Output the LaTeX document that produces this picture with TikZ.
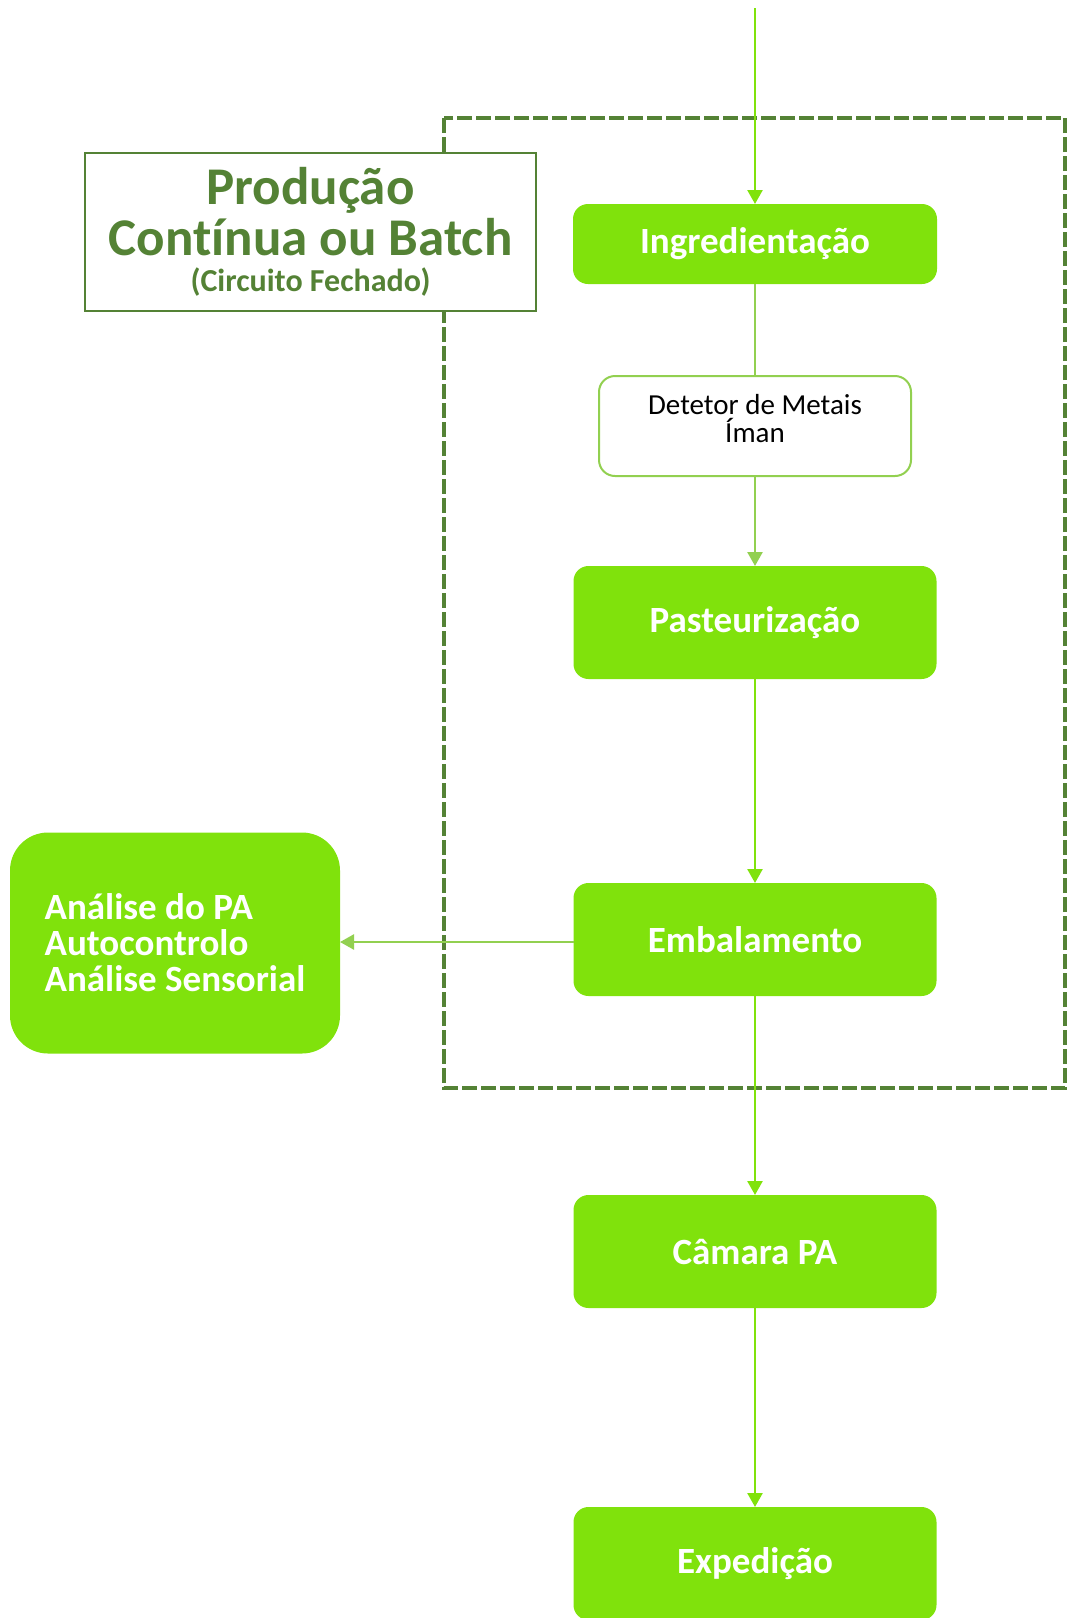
\documentclass[tikz,border=0pt]{standalone}
\usepackage{fontspec}
\setmainfont[Ligatures=NoCommon]{Carlito}
\usepackage{tikz}
\usetikzlibrary{arrows.meta}
\usetikzlibrary{shapes, positioning, calc}

\definecolor{leaf}{HTML}{80E20C}
\definecolor{moss}{HTML}{548235}
\definecolor{pale}{HTML}{92D050}

\begin{document}
\begin{tikzpicture}[x=1pt,y=-1pt,>={Triangle[width=15pt,length=14pt]},
  line width=2.5pt, node distance=199pt, every node/.style={outer sep=0pt},
  stage/.style={rectangle, rounded corners=15pt, fill=leaf, text=white, inner sep=0pt,
    minimum width=363pt, minimum height=113pt, font=\fontsize{37}{36}\selectfont\bfseries},
  check box/.style={rectangle, rounded corners=16pt, draw=pale, fill=white, line width=2pt,
    inner sep=0pt, minimum width=312pt, minimum height=100pt, align=center,
    font=\fontsize{29}{28}\selectfont},
  side box/.style={rectangle, rounded corners=38pt, fill=leaf, text=white, inner sep=0pt,
    minimum width=330pt, minimum height=221pt, align=left,
    font=\fontsize{37}{36}\selectfont\bfseries},
  title box/.style={rectangle, draw=moss, fill=white, line width=2.5pt, inner sep=0pt,
    minimum width=451pt, minimum height=158pt, align=center, text=moss,
    font=\fontsize{53}{51}\selectfont\bfseries},
  flow/.style={->, draw=leaf},
  soft/.style={draw=pale}]
  \useasboundingbox (0,0) rectangle (1078,1618);

  % closed circuit frame
  \draw[moss, line width=4pt, dash pattern=on 15pt off 4pt] (444,118) rectangle (1065,1088);

  \node[title box] (prod) at (310.5,232)
    {Produção\\Contínua ou Batch\\[-15pt]{\fontsize{32}{38}\selectfont(Circuito Fechado)}};

  \node[stage, minimum width=364pt, minimum height=80pt] (ingr) at (755,244) {Ingredientação};
  \node[check box, below=92pt of ingr] (det) {Detetor de Metais\\Íman\rule[-16pt]{0pt}{16pt}};
  \node[stage, below=90pt of det] (past) {Pasteurização};
  \node[stage, below=204pt of past] (emb) {Embalamento};
  \node[stage, below=199pt of emb] (cam) {Câmara PA};
  \node[stage, below=199pt of cam] (exp) {Expedição};
  \node[side box] (ana) at (175,943) {Análise do PA\\Autocontrolo\\Análise Sensorial};

  \coordinate (in) at (ingr.north |- 0,8);

  \draw[flow] (in) -- (ingr);
  \draw[soft] (ingr) -- (det);
  \draw[->, soft] (det) -- (past);
  \draw[flow] (past) -- (emb);
  \draw[->, soft] ($(emb.west)+(0,2.5)$) -- ($(emb.west -| ana.east)+(0,2.5)$);
  \draw[flow] (emb) -- (cam);
  \draw[flow] (cam) -- (exp);
\end{tikzpicture}
\end{document}
